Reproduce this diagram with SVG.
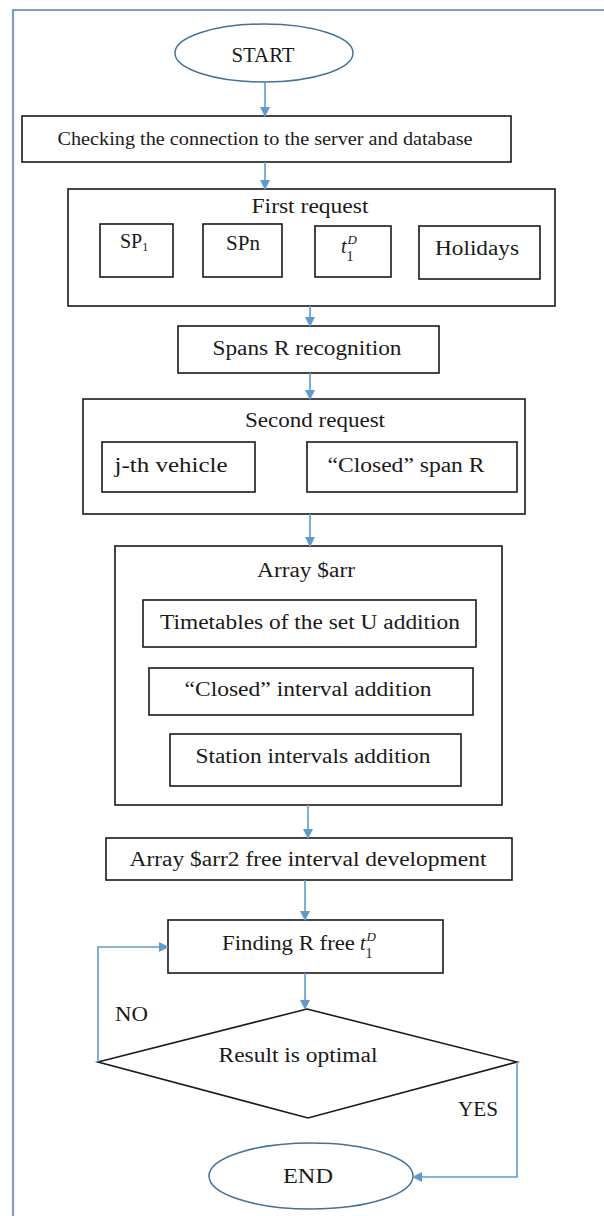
<svg xmlns="http://www.w3.org/2000/svg" width="604" height="1216" viewBox="0 0 604 1216">
<defs>
<marker id="ah" markerWidth="10" markerHeight="10" refX="9" refY="5" orient="auto" markerUnits="userSpaceOnUse">
<path d="M0,0 L10,5 L0,10 Z" fill="#5b9bd5"/>
</marker>
<style>
.box{fill:#fff;stroke:#1a1a1a;stroke-width:1.6}
.term{fill:#fff;stroke:#41719c;stroke-width:1.5}
.t{font-family:"Liberation Serif","Times New Roman",serif;font-size:20px;fill:#1a1a1a;text-anchor:middle}
.lbl{font-family:"Liberation Serif","Times New Roman",serif;font-size:20px;fill:#1a1a1a}
.c{fill:none;stroke:#5b9bd5;stroke-width:1.6;marker-end:url(#ah)}
</style>
</defs>
<rect width="604" height="1216" fill="#fff"/>
<g id="frame"><path d="M13,1216 V10 H604" fill="none" stroke="#7f9dc4" stroke-width="2.2"/></g>

<g id="start"><ellipse class="term" cx="264" cy="53" rx="89" ry="29"/><text class="t" x="263" y="62" textLength="63" lengthAdjust="spacingAndGlyphs">START</text></g>
<g id="check"><rect class="box" x="22" y="116" width="489" height="46"/><text class="t" x="265" y="145" style="font-size:18.5px" textLength="415" lengthAdjust="spacingAndGlyphs">Checking the connection to the server and database</text></g>
<g id="first"><rect class="box" x="68" y="189" width="487" height="117"/><text class="t" x="310" y="213" textLength="117" lengthAdjust="spacingAndGlyphs">First request</text></g>
<g id="sp1"><rect class="box" x="100" y="224" width="73" height="53"/><text class="t" x="134" y="248">SP<tspan font-size="12" dy="3">1</tspan></text></g>
<g id="spn"><rect class="box" x="203" y="224" width="79" height="53"/><text class="t" x="243" y="250" textLength="34" lengthAdjust="spacingAndGlyphs">SPn</text></g>
<g id="t1d"><rect class="box" x="315" y="226" width="76" height="51"/><text class="t" x="349" y="253"><tspan font-style="italic">t</tspan><tspan font-size="14" dy="8">1</tspan><tspan font-size="13" font-style="italic" dx="-6" dy="-17">D</tspan></text></g>
<g id="holidays"><rect class="box" x="419" y="226" width="121" height="53"/><text class="t" x="477" y="255" textLength="84" lengthAdjust="spacingAndGlyphs">Holidays</text></g>
<g id="spans"><rect class="box" x="178" y="326" width="261" height="47"/><text class="t" x="307" y="355" textLength="189" lengthAdjust="spacingAndGlyphs">Spans R recognition</text></g>
<g id="second"><rect class="box" x="83" y="399" width="442" height="115"/><text class="t" x="315" y="427" textLength="140" lengthAdjust="spacingAndGlyphs">Second request</text></g>
<g id="jth"><rect class="box" x="102" y="442" width="153" height="50"/><text class="t" x="171" y="472" textLength="113" lengthAdjust="spacingAndGlyphs">j-th vehicle</text></g>
<g id="closedspan"><rect class="box" x="307" y="442" width="210" height="50"/><text class="t" x="406" y="472" textLength="157" lengthAdjust="spacingAndGlyphs">“Closed” span R</text></g>
<g id="arr"><rect class="box" x="115" y="546" width="387" height="259"/><text class="t" x="306" y="577" textLength="98" lengthAdjust="spacingAndGlyphs">Array $arr</text></g>
<g id="timetables"><rect class="box" x="143" y="600" width="333" height="47"/><text class="t" x="310" y="629" textLength="300" lengthAdjust="spacingAndGlyphs">Timetables of the set U addition</text></g>
<g id="closedint"><rect class="box" x="149" y="668" width="324" height="47"/><text class="t" x="308" y="696" textLength="247" lengthAdjust="spacingAndGlyphs">“Closed” interval addition</text></g>
<g id="station"><rect class="box" x="170" y="734" width="291" height="52"/><text class="t" x="313" y="763" textLength="235" lengthAdjust="spacingAndGlyphs">Station intervals addition</text></g>
<g id="arr2"><rect class="box" x="106" y="838" width="406" height="42"/><text class="t" x="308" y="866" textLength="357" lengthAdjust="spacingAndGlyphs">Array $arr2 free interval development</text></g>
<g id="finding"><rect class="box" x="168" y="920" width="275" height="53"/><text class="lbl" x="222" y="950"><tspan textLength="133" lengthAdjust="spacingAndGlyphs">Finding R free</tspan><tspan font-style="italic" dx="5">t</tspan><tspan font-size="14" dy="8">1</tspan><tspan font-size="13" font-style="italic" dx="-6" dy="-17">D</tspan></text></g>
<g id="decision"><polygon points="307,1009 517,1062 308,1118 98,1062" fill="#fff" stroke="#1a1a1a" stroke-width="1.6"/><text class="t" x="298" y="1062" textLength="159" lengthAdjust="spacingAndGlyphs">Result is optimal</text></g>
<g id="end"><ellipse class="term" cx="311" cy="1176" rx="102" ry="33"/><text class="t" x="308" y="1183" textLength="50" lengthAdjust="spacingAndGlyphs">END</text></g>

<g id="connectors">
<path class="c" d="M265,82 V116"/>
<path class="c" d="M265,162 V189"/>
<path class="c" d="M310,306 V326"/>
<path class="c" d="M310,373 V399"/>
<path class="c" d="M310,514 V546"/>
<path class="c" d="M308,805 V838"/>
<path class="c" d="M305,880 V920"/>
<path class="c" d="M305,973 V1009"/>
<path class="c" d="M98,1062 V947 H168"/>
<path class="c" d="M517,1062 V1177 H413"/>
<text class="lbl" x="115" y="1021" textLength="33" lengthAdjust="spacingAndGlyphs">NO</text>
<text class="lbl" x="458" y="1116" textLength="40" lengthAdjust="spacingAndGlyphs">YES</text>
</g>
</svg>
